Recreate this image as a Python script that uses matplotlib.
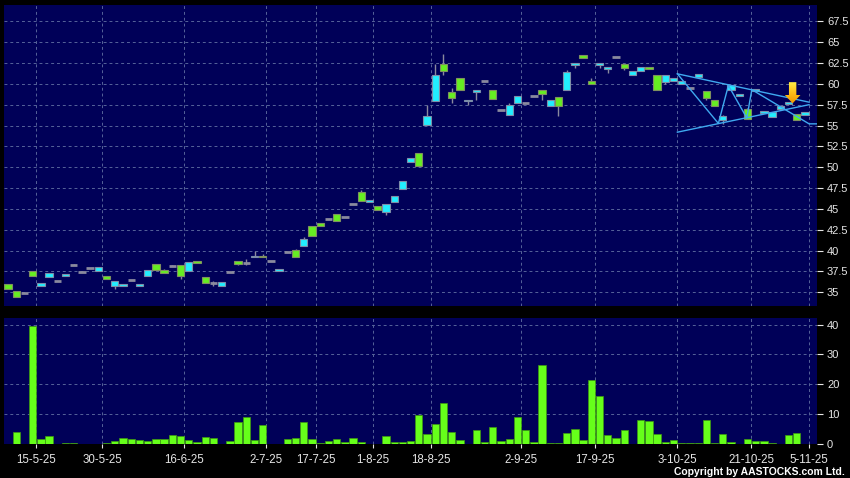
import matplotlib
matplotlib.use('Agg')
import matplotlib.pyplot as plt
import numpy as np
from matplotlib.patches import Polygon
from matplotlib.colors import LinearSegmentedColormap

# daily bars, oldest first (cyan = close above open, green = close below open)
opens = [36.0, 35.1, 34.9, 37.5, 35.8, 36.8, 36.4, 36.9, 38.3, 37.4,
         37.9, 37.6, 37.0, 35.7, 35.7, 36.5, 35.7, 36.9, 38.4, 37.7,
         38.1, 38.25, 37.6, 38.8, 36.8, 36.15, 35.8, 37.4, 38.8, 38.5,
         39.2, 39.4, 38.8, 37.5, 39.8, 40.1, 40.5, 42.9, 43.3, 43.8,
         44.4, 44.0, 45.6, 47.0, 45.8, 45.4, 44.6, 45.8, 47.4, 50.6,
         51.7, 55.1, 58.0, 62.4, 59.0, 60.7, 57.9, 59.0, 60.3, 59.3,
         56.9, 56.3, 57.7, 57.7, 58.6, 59.2, 57.4, 58.4, 59.3, 62.2,
         63.4, 60.3, 62.2, 61.75, 63.2, 62.4, 61.0, 61.5, 62.0, 61.0,
         60.25, 60.3, 60.0, 59.5, 60.8, 59.1, 58.1, 55.7, 59.3, 58.6,
         57.0, 59.1, 56.5, 56.0, 57.0, 57.6, 56.4, 56.3]
closes = [35.4, 34.4, 34.9, 36.9, 36.1, 37.3, 36.4, 37.2, 38.3, 37.4,
          37.9, 38.0, 36.6, 36.3, 36.0, 36.5, 36.0, 37.7, 37.7, 37.3,
          38.1, 36.9, 38.6, 38.5, 36.15, 36.15, 36.2, 37.4, 38.4, 38.5,
          39.4, 39.2, 38.8, 37.8, 39.8, 39.2, 41.4, 41.8, 42.9, 43.8,
          43.6, 44.0, 45.6, 46.0, 46.1, 44.9, 45.6, 46.5, 48.3, 51.1,
          50.1, 56.1, 61.1, 61.5, 58.3, 59.3, 58.1, 59.25, 60.3, 58.2,
          56.9, 57.5, 58.5, 57.7, 58.6, 58.8, 58.05, 57.4, 61.4, 62.5,
          63.1, 60.0, 62.5, 62.0, 63.2, 61.85, 61.5, 62.0, 61.8, 59.2,
          61.0, 60.7, 60.3, 59.5, 61.2, 58.3, 57.4, 56.1, 59.9, 58.8,
          55.8, 59.4, 56.8, 56.6, 57.3, 57.8, 55.7, 56.6]
highs = [36.0, 35.1, 34.9, 37.5, 36.1, 37.3, 36.4, 37.2, 38.45, 37.4,
         37.9, 38.0, 37.0, 36.3, 36.0, 36.5, 36.0, 37.7, 38.4, 37.8,
         38.3, 38.25, 38.6, 38.8, 36.8, 36.4, 36.2, 37.4, 38.8, 39.0,
         40.0, 39.6, 38.8, 37.8, 39.8, 40.2, 41.6, 42.9, 43.3, 43.8,
         44.4, 44.0, 45.6, 47.3, 46.1, 45.4, 45.6, 46.5, 48.3, 51.1,
         51.7, 57.45, 62.4, 63.6, 59.5, 60.7, 58.1, 59.25, 60.3, 59.3,
         56.9, 57.7, 58.5, 57.7, 58.6, 59.2, 58.05, 58.4, 61.6, 62.5,
         63.4, 60.7, 62.5, 62.0, 63.2, 62.4, 61.5, 62.0, 62.0, 61.0,
         61.0, 60.7, 60.3, 59.5, 61.2, 59.1, 58.1, 56.3, 59.9, 58.8,
         57.1, 59.4, 56.8, 56.6, 57.3, 57.8, 56.4, 56.6]
lows = [35.4, 34.4, 34.9, 36.9, 35.8, 36.8, 36.4, 36.9, 38.3, 37.4,
        37.9, 37.6, 36.6, 35.4, 35.7, 36.5, 35.7, 36.9, 37.7, 37.3,
        38.1, 36.6, 37.6, 38.5, 36.15, 35.8, 35.8, 37.4, 38.25, 38.3,
        39.2, 39.2, 38.8, 37.5, 39.8, 39.2, 40.5, 41.8, 42.9, 43.8,
        43.6, 44.0, 45.6, 46.0, 45.8, 44.9, 44.3, 45.8, 47.4, 50.6,
        50.1, 55.1, 58.0, 61.1, 57.65, 59.3, 57.5, 58.05, 60.3, 58.2,
        56.9, 56.3, 57.7, 57.7, 58.6, 58.05, 57.4, 56.2, 59.3, 61.95,
        63.1, 60.0, 61.95, 61.3, 63.2, 61.6, 61.0, 61.5, 61.8, 59.2,
        60.0, 60.3, 60.0, 59.5, 60.8, 58.1, 57.4, 55.2, 59.3, 58.6,
        55.8, 59.1, 56.5, 56.0, 57.0, 57.6, 55.7, 56.3]
volume = [0, 4.0, 0, 39.6, 1.8, 2.8, 0, 0.2, 0.3, 0,
          0.1, 0, 0.5, 1.1, 2.0, 1.6, 1.4, 0.9, 1.8, 1.6,
          3.0, 2.6, 1.3, 0.7, 2.3, 2.1, 0, 1.1, 7.4, 9.1,
          1.2, 6.3, 0, 0, 1.7, 2.1, 7.4, 1.7, 0.2, 1.0,
          1.7, 0.7, 2.0, 0.7, 0, 0, 2.6, 0.7, 0.7, 1.1,
          9.7, 3.2, 6.8, 13.7, 3.9, 1.2, 0, 4.7, 0.8, 5.8,
          1.0, 1.7, 9.1, 4.7, 0.7, 26.3, 0.4, 0.4, 3.7, 5.0,
          1.3, 21.6, 16.1, 3.0, 1.9, 4.8, 0, 8.2, 7.8, 3.2,
          0.7, 1.2, 0.3, 0.5, 0.5, 7.9, 0.3, 3.2, 0.8, 0,
          1.8, 0.9, 0.9, 0.2, 0, 2.9, 3.6, 0]

# date labels and the bar they sit on
tick_bars = [3, 11, 21, 31, 37, 44, 51, 62, 71, 81, 90, 97]
tick_labels = ['15-5-25', '30-5-25', '16-6-25', '2-7-25', '17-7-25', '1-8-25',
               '18-8-25', '2-9-25', '17-9-25', '3-10-25', '21-10-25', '5-11-25']

# drawn triangle pattern (bar position, price)
zigzag_x = [81.47, 86.46, 87.68, 89.92, 90.53, 97.5, 98.5]
zigzag_y = [61.2, 55.25, 59.8, 55.9, 59.3, 55.2, 55.2]
upper_x, upper_y = [81.47, 97.5], [61.2, 57.8]
lower_x, lower_y = [81.47, 97.5], [54.2, 57.5]
arrow_bar, arrow_top, arrow_tip = 95.5, 60.2, 57.66

NAVY = '#000058'
GRID = '#56639a'
UP = '#22eeff'
DOWN = '#66ee22'
FLAT = '#8a8a9e'
TXT = '#e6e6e6'
plt.rcParams['font.family'] = ['Liberation Sans', 'DejaVu Sans']

fig = plt.figure(figsize=(8.5, 4.78), dpi=100, facecolor='black')
ax = fig.add_axes([4/850, 1-305.7/478, 813.3/850, 301/478])
axv = fig.add_axes([4/850, 1-444/478, 813.3/850, 125.7/478])

x = np.arange(len(opens))
o = np.array(opens); c = np.array(closes)
grid_x = np.array(tick_bars) + 0.45

for a in (ax, axv):
    a.set_facecolor(NAVY)
    for s in a.spines.values():
        s.set_visible(False)
    a.set_xlim(-0.49, 98.5)
    for gx in grid_x:
        a.axvline(gx, color=GRID, lw=0.7, ls=(0, (3, 3)), zorder=1)
    a.yaxis.tick_right()
    a.tick_params(axis='y', colors=TXT, labelsize=8, length=4, pad=3, width=0.8)
    a.grid(True, axis='y', color=GRID, lw=0.7, ls=(0, (3, 3)), zorder=1)
    a.set_axisbelow(True)

# price candles
ax.vlines(x, lows, highs, color=FLAT, lw=1, zorder=2)
up = c > o
down = c < o
flat = c == o
ax.bar(x[up], (c - o)[up], bottom=o[up], width=0.89, color=UP,
       edgecolor='#7d8ea8', linewidth=0.8, zorder=3)
ax.bar(x[down], (o - c)[down], bottom=c[down], width=0.89, color=DOWN,
       edgecolor='#7f9060', linewidth=0.8, zorder=3)
ax.hlines(o[flat], x[flat] - 0.45, x[flat] + 0.45, color=FLAT, lw=2, zorder=3)

# triangle lines
ax.plot(upper_x, upper_y, color='#3fa9f0', lw=1, zorder=4)
ax.plot(lower_x, lower_y, color='#3fa9f0', lw=1, zorder=4)
ax.plot(zigzag_x, zigzag_y, color='#3fa9f0', lw=1, zorder=4)

# down arrow with a yellow to orange fill
head = arrow_tip + 1.0
pts = [(arrow_bar - 0.45, arrow_top), (arrow_bar + 0.45, arrow_top),
       (arrow_bar + 0.45, head), (arrow_bar + 0.95, head),
       (arrow_bar, arrow_tip), (arrow_bar - 0.95, head), (arrow_bar - 0.45, head)]
poly = Polygon(pts, closed=True, facecolor='none', edgecolor='none', zorder=5)
ax.add_patch(poly)
grad = np.linspace(0, 1, 64).reshape(-1, 1)
cm = LinearSegmentedColormap.from_list('arr', ['#fff34a', '#ffc21a', '#f39a00'])
im = ax.imshow(grad, cmap=cm, aspect='auto', zorder=5,
               extent=[arrow_bar - 0.95, arrow_bar + 0.95, arrow_tip, arrow_top],
               origin='upper')
im.set_clip_path(poly)

ax.set_ylim(33.39, 69.49)
ax.set_yticks(np.arange(35, 68, 2.5))
ax.set_yticklabels(['35', '37.5', '40', '42.5', '45', '47.5', '50', '52.5',
                    '55', '57.5', '60', '62.5', '65', '67.5'])
ax.set_xticks([])
ax.set_xlim(-0.49, 98.5)

# volume
axv.bar(x, volume, width=0.89, color='#66ff1a', edgecolor='#3f9a10',
        linewidth=0.5, zorder=3)
axv.set_ylim(0, 42.1)
axv.set_yticks([0, 10, 20, 30, 40])
axv.set_xticks(grid_x)
axv.set_xticklabels(tick_labels)
axv.tick_params(axis='x', colors=TXT, labelsize=8.3, length=3, pad=4, width=0.8)
axv.set_xlim(-0.49, 98.5)

fig.text(845/850, 1-472/478, 'Copyright by AASTOCKS.com Ltd.', ha='right',
         va='center', color='white', fontsize=7.5, fontweight='bold')

fig.savefig('out.png', dpi=100, facecolor='black')
